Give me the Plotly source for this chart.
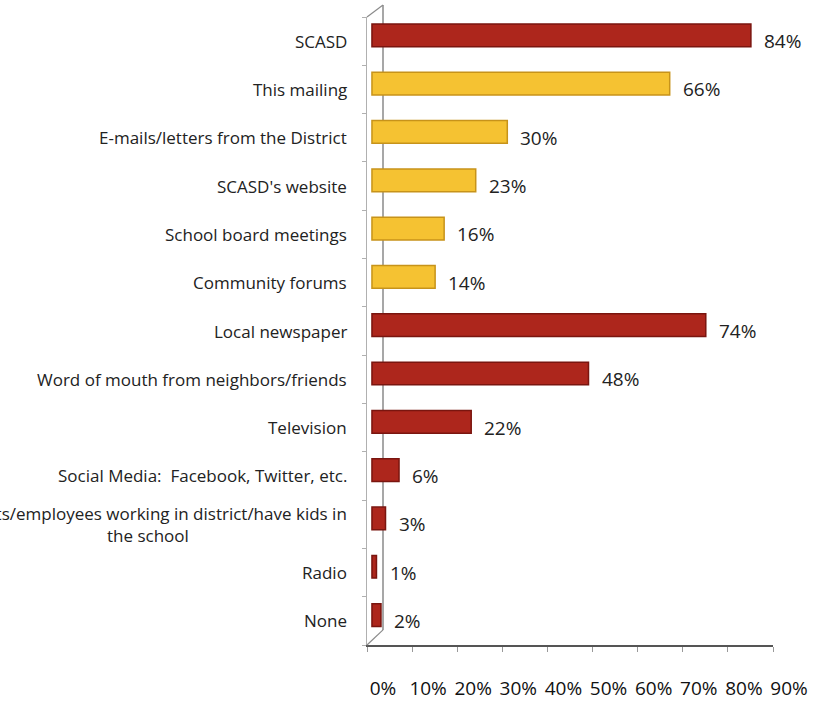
import plotly.graph_objects as go

categories = [
    "SCASD",
    "This mailing",
    "E-mails/letters from the District",
    "SCASD's website",
    "School board meetings",
    "Community forums",
    "Local newspaper",
    "Word of mouth from neighbors/friends",
    "Television",
    "Social Media:  Facebook, Twitter, etc.",
    "Parents/employees working in district/have kids in<br>the school",
    "Radio",
    "None",
]
values = [84, 66, 30, 23, 16, 14, 74, 48, 22, 6, 3, 1, 2]
groups = ["red", "yellow", "yellow", "yellow", "yellow", "yellow",
          "red", "red", "red", "red", "red", "red", "red"]
tick_vals = [0, 10, 20, 30, 40, 50, 60, 70, 80, 90]
tick_text = ["0%", "10%", "20%", "30%", "40%", "50%", "60%", "70%", "80%", "90%"]

RED = "#AD261C"
RED_EDGE = "#7A150F"
YEL = "#F5C232"
YEL_EDGE = "#C7931A"

fill = [RED if g == "red" else YEL for g in groups]
edge = [RED_EDGE if g == "red" else YEL_EDGE for g in groups]

W = 0.47          # bar thickness (category units)
LIFT = 0.12       # 3D lift of the bar front face
BASE = 1.1        # front face starts slightly right of the back wall

fig = go.Figure()
fig.add_trace(go.Bar(
    x=values, y=categories, orientation="h",
    base=[BASE] * len(values),
    marker=dict(color=fill, line=dict(color=edge, width=1.5)),
    width=W, offset=-W / 2 + LIFT, hoverinfo="skip",
))

# value labels
for c, v in zip(categories, values):
    fig.add_annotation(x=v, y=c, xref="x", yref="y", text=f"{v}%",
                       showarrow=False, xanchor="left", xshift=16,
                       font=dict(family="Open Sans", size=19, color="#222"))
# category labels
for c in categories:
    fig.add_annotation(x=0, y=c, xref="paper", yref="y", text=c,
                       showarrow=False, xanchor="right", align="center",
                       xshift=-18,
                       font=dict(family="Open Sans", size=17, color="#222"))

# 3D wall: back line and diagonal edges
WALL = "#8a8a8a"
fig.add_shape(type="line", xref="paper", yref="paper", layer="below",
              x0=0.0394, x1=0.0394, y0=0.024, y1=1.019,
              line=dict(color=WALL, width=1.5))
fig.add_shape(type="line", xref="paper", yref="paper",
              x0=0.0, x1=0.0394, y0=0.0, y1=0.024,
              line=dict(color=WALL, width=1.2))
fig.add_shape(type="line", xref="paper", yref="paper",
              x0=0.0, x1=0.0394, y0=1.0, y1=1.019,
              line=dict(color=WALL, width=1.2))

fig.update_layout(
    width=834, height=702,
    margin=dict(l=367, r=61, t=17, b=57, autoexpand=False),
    paper_bgcolor="white", plot_bgcolor="white",
    showlegend=False,
    xaxis=dict(range=[0, 90], tickvals=tick_vals, ticktext=tick_text,
               showgrid=False, zeroline=False, showline=True,
               linecolor="#555", linewidth=1.5, ticks="outside",
               ticklen=5, tickcolor="#999", automargin=False,
               ticklabelstandoff=20, ticklabelshift=16,
               tickfont=dict(family="Open Sans", size=19, color="#111"),
               fixedrange=True),
    yaxis=dict(categoryorder="array", categoryarray=categories[::-1],
               range=[-0.5, len(categories) - 0.5],
               showticklabels=False, showgrid=False, zeroline=False,
               showline=True, linecolor="#b0b0b0", linewidth=1,
               ticks="outside", tickson="boundaries", ticklen=4,
               tickcolor="#b0b0b0", automargin=False, fixedrange=True),
)

fig.write_html("out.html")
